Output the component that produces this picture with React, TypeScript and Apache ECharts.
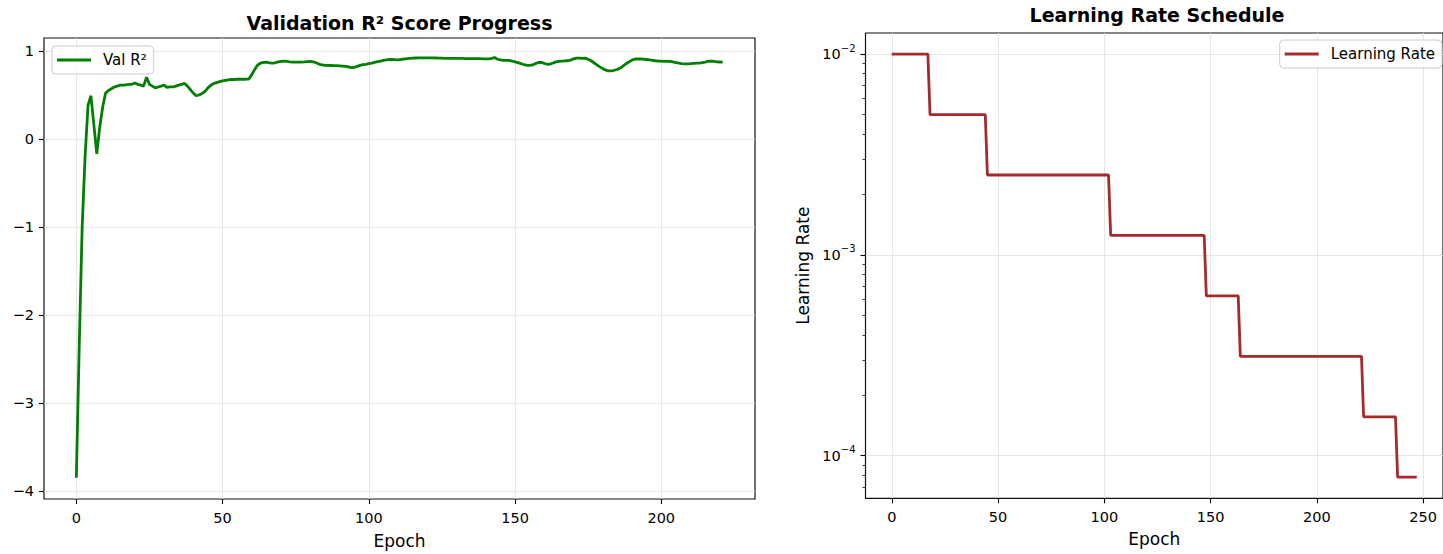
import React, { useEffect, useRef } from "react";
import * as echarts from "echarts";

// ---------------- DATA ----------------
// Validation R² per epoch (epochs 0..221)
const r2Values: number[] = [
  -3.85, -2.35, -1.0, -0.2, 0.38, 0.49, 0.16, -0.17, 0.13, 0.36,
  0.52, 0.55, 0.57, 0.59, 0.60, 0.61, 0.61, 0.615, 0.62, 0.62,
  0.635, 0.62, 0.61, 0.60, 0.70, 0.62, 0.60, 0.58, 0.59, 0.60,
  0.61, 0.585, 0.59, 0.59, 0.60, 0.61, 0.62, 0.63, 0.60, 0.56,
  0.52, 0.49, 0.50, 0.515, 0.54, 0.58, 0.61, 0.63, 0.64, 0.65,
  0.66, 0.665, 0.67, 0.675, 0.675, 0.678, 0.678, 0.678, 0.678, 0.68,
  0.73, 0.79, 0.84, 0.86, 0.87, 0.872, 0.865, 0.86, 0.865, 0.875,
  0.88, 0.884, 0.88, 0.875, 0.873, 0.872, 0.872, 0.873, 0.875, 0.878,
  0.88, 0.875, 0.865, 0.85, 0.84, 0.835, 0.835, 0.834, 0.833, 0.832,
  0.83, 0.828, 0.825, 0.818, 0.81, 0.812, 0.825, 0.835, 0.843, 0.848,
  0.855, 0.862, 0.87, 0.878, 0.885, 0.892, 0.898, 0.902, 0.903, 0.90,
  0.899, 0.902, 0.908, 0.912, 0.916, 0.918, 0.919, 0.92, 0.921, 0.921,
  0.921, 0.921, 0.92, 0.919, 0.918, 0.917, 0.916, 0.915, 0.915, 0.914,
  0.914, 0.914, 0.914, 0.913, 0.913, 0.912, 0.912, 0.911, 0.911, 0.91,
  0.91, 0.91, 0.915, 0.925, 0.905, 0.898, 0.893, 0.893, 0.892, 0.885,
  0.876, 0.866, 0.855, 0.845, 0.837, 0.835, 0.84, 0.855, 0.868, 0.87,
  0.858, 0.848, 0.85, 0.862, 0.875, 0.882, 0.884, 0.886, 0.888, 0.895,
  0.91, 0.918, 0.918, 0.915, 0.918, 0.905, 0.888, 0.865, 0.84, 0.818,
  0.798, 0.782, 0.772, 0.772, 0.78, 0.79, 0.805, 0.83, 0.854, 0.875,
  0.895, 0.907, 0.91, 0.908, 0.905, 0.902, 0.898, 0.893, 0.888, 0.885,
  0.883, 0.882, 0.881, 0.88, 0.875, 0.868, 0.86, 0.855, 0.853, 0.853,
  0.855, 0.858, 0.86, 0.862, 0.866, 0.872, 0.882, 0.884, 0.88, 0.876,
  0.874, 0.872,
];
const r2Epochs: number[] = r2Values.map((_, i) => i);

// Learning-rate schedule: epochs where the rate is read, and the rate there
const lrEpochs: number[] = [0, 17, 18, 44, 45, 102, 103, 147, 148, 163, 164, 221, 222, 237, 238, 247];
const lrValues: number[] = [
  0.01, 0.01, 0.005, 0.005, 0.0025, 0.0025, 0.00125, 0.00125,
  0.000625, 0.000625, 0.0003125, 0.0003125, 0.00015625, 0.00015625, 0.000078125, 0.000078125,
];

// Tick labels / positions
const epochTicksLeft: number[] = [0, 50, 100, 150, 200];
const epochTicksRight: number[] = [0, 50, 100, 150, 200, 250];
const r2Ticks: number[] = [-4, -3, -2, -1, 0, 1];
const lrMajorTicks: number[] = [1e-4, 1e-3, 1e-2];
const lrMinorTicks: number[] = [
  7e-5, 8e-5, 9e-5,
  2e-4, 3e-4, 4e-4, 5e-4, 6e-4, 7e-4, 8e-4, 9e-4,
  2e-3, 3e-3, 4e-3, 5e-3, 6e-3, 7e-3, 8e-3, 9e-3,
];

// Axis limits (matplotlib auto-margins)
const leftXRange = [-11.05, 232.05];
const leftYRange = [-4.0925, 1.1465];
const rightXRange = [-12.35, 259.35];
const rightYRange = [6.135e-5, 0.012744];

// ---------------- STYLE ----------------
const FONT = "DejaVu Sans";
const BLACK = "#000000";
const GRID_COLOR = "#e6e6e6";
const GREEN = "#008000";
const BROWN = "#a52a2a";

const tickStyle = { color: BLACK, width: 1.1 };
const minus = (v: number) => (v < 0 ? "\u2212" + Math.abs(v) : String(v));

function buildOption(): any {
  const labelStyle = { fontFamily: FONT, fontSize: 14.5, color: BLACK };
  const nameStyle = { fontFamily: FONT, fontSize: 17, color: BLACK };
  const log10 = (v: number) => Math.log10(v);

  return {
    animation: false,
    backgroundColor: "#ffffff",
    title: [
      {
        text: "Validation R\u00b2 Score Progress",
        left: 399.5,
        top: 13,
        textAlign: "center",
        padding: 0,
        textStyle: { fontFamily: FONT, fontSize: 19, fontWeight: "bold", color: BLACK },
      },
      {
        text: "Learning Rate Schedule",
        left: 1157,
        top: 5,
        textAlign: "center",
        padding: 0,
        textStyle: { fontFamily: FONT, fontSize: 19, fontWeight: "bold", color: BLACK },
      },
    ],
    grid: [
      {
        left: 44, top: 38, width: 711, height: 466.5,
        show: true, borderColor: "#111111", borderWidth: 1.2, backgroundColor: "#ffffff",
      },
      {
        left: 865.5, top: 33, width: 583, height: 465.3,
        show: true, borderColor: "#111111", borderWidth: 1.2, backgroundColor: "#ffffff",
      },
    ],
    legend: [
      {
        data: [{ name: "Val R\u00b2", icon: "rect" }],
        left: 52, top: 46,
        itemWidth: 34, itemHeight: 3,
        padding: [6, 7, 6, 5],
        backgroundColor: "rgba(255,255,255,0.8)",
        borderColor: "#cccccc", borderWidth: 1, borderRadius: 4,
        selectedMode: false,
        textStyle: { fontFamily: FONT, fontSize: 15, color: BLACK, lineHeight: 16, padding: [0, 0, 0, 7] },
      },
      {
        data: [{ name: "Learning Rate", icon: "rect" }],
        right: 1, top: 40,
        itemWidth: 34, itemHeight: 3,
        padding: [6, 7, 6, 5],
        backgroundColor: "rgba(255,255,255,0.8)",
        borderColor: "#cccccc", borderWidth: 1, borderRadius: 4,
        selectedMode: false,
        textStyle: { fontFamily: FONT, fontSize: 15, color: BLACK, lineHeight: 16, padding: [0, 0, 0, 7] },
      },
    ],
    xAxis: [
      {
        type: "value", gridIndex: 0,
        min: leftXRange[0], max: leftXRange[1],
        axisLine: { show: false, onZero: false },
        axisTick: { show: true, inside: false, length: 5, lineStyle: tickStyle, customValues: epochTicksLeft },
        axisLabel: { ...labelStyle, margin: 11, customValues: epochTicksLeft },
        splitLine: { show: true, lineStyle: { color: GRID_COLOR, width: 1 } },
        name: "Epoch", nameLocation: "middle", nameGap: 33, nameTextStyle: nameStyle,
      },
      {
        type: "value", gridIndex: 1,
        min: rightXRange[0], max: rightXRange[1],
        axisLine: { show: false, onZero: false },
        axisTick: { show: true, inside: false, length: 5, lineStyle: tickStyle, customValues: epochTicksRight },
        axisLabel: { ...labelStyle, margin: 11, customValues: epochTicksRight },
        splitLine: { show: true, lineStyle: { color: GRID_COLOR, width: 1 } },
        name: "Epoch", nameLocation: "middle", nameGap: 32, nameTextStyle: nameStyle,
      },
    ],
    yAxis: [
      {
        type: "value", gridIndex: 0, position: "left",
        min: leftYRange[0], max: leftYRange[1],
        axisLine: { show: false, onZero: false },
        axisTick: { show: true, inside: false, length: 5, lineStyle: tickStyle, customValues: r2Ticks },
        axisLabel: { ...labelStyle, margin: 10, customValues: r2Ticks, formatter: (v: number) => minus(v) },
        splitLine: { show: true, lineStyle: { color: GRID_COLOR, width: 1 } },
      },
      {
        type: "log", logBase: 10, gridIndex: 1, position: "left",
        min: rightYRange[0], max: rightYRange[1],
        axisLine: { show: false, onZero: false },
        axisTick: { show: false },
        splitLine: { show: false },
        axisLabel: {
          margin: 10,
          formatter: (v: number) => {
            const e = Math.log10(v);
            const r = Math.round(e);
            if (Math.abs(e - r) > 1e-6) return "";
            return "{b|10}{s|" + (r < 0 ? "\u2212" : "") + Math.abs(r) + "}";
          },
          rich: {
            b: { fontFamily: FONT, fontSize: 14.5, color: BLACK, lineHeight: 22 },
            s: { fontFamily: FONT, fontSize: 10, color: BLACK, lineHeight: 12, verticalAlign: "top" },
          },
        },
        name: "Learning Rate", nameLocation: "middle", nameGap: 54, nameRotate: 90, nameTextStyle: nameStyle,
      },
      {
        // major ticks + grid lines of the log axis
        type: "value", gridIndex: 1, position: "left",
        min: log10(rightYRange[0]), max: log10(rightYRange[1]),
        axisLine: { show: false, onZero: false },
        axisTick: { show: true, inside: false, length: 5, lineStyle: tickStyle, customValues: lrMajorTicks.map(log10) },
        axisLabel: { show: false },
        splitLine: { show: true, lineStyle: { color: GRID_COLOR, width: 1 } },
      },
      {
        // minor ticks of the log axis
        type: "value", gridIndex: 1, position: "left",
        min: log10(rightYRange[0]), max: log10(rightYRange[1]),
        axisLine: { show: false, onZero: false },
        axisTick: { show: true, inside: false, length: 3, lineStyle: { color: BLACK, width: 0.8 }, customValues: lrMinorTicks.map(log10) },
        axisLabel: { show: false },
        splitLine: { show: false },
      },
    ],
    series: [
      {
        type: "line", name: "Val R\u00b2",
        xAxisIndex: 0, yAxisIndex: 0,
        data: r2Epochs.map((e, i) => [e, r2Values[i]]),
        symbol: "none", showSymbol: false,
        lineStyle: { color: GREEN, width: 2.8 },
        itemStyle: { color: GREEN },
        z: 5,
      },
      {
        type: "line", name: "Learning Rate",
        xAxisIndex: 1, yAxisIndex: 1,
        data: lrEpochs.map((e, i) => [e, lrValues[i]]),
        symbol: "none", showSymbol: false,
        lineStyle: { color: BROWN, width: 2.8 },
        itemStyle: { color: BROWN },
        z: 5,
      },
    ],
  };
}

export default function App() {
  const ref = useRef<HTMLDivElement>(null);
  useEffect(() => {
    if (!ref.current) return;
    const chart = echarts.init(ref.current, null, { renderer: "svg", width: 1443, height: 554 });
    chart.setOption(buildOption());
    return () => chart.dispose();
  }, []);
  return (
    <div
      ref={ref}
      style={{ position: "absolute", left: 0, top: 0, width: 1443, height: 554, background: "#ffffff" }}
    />
  );
}
